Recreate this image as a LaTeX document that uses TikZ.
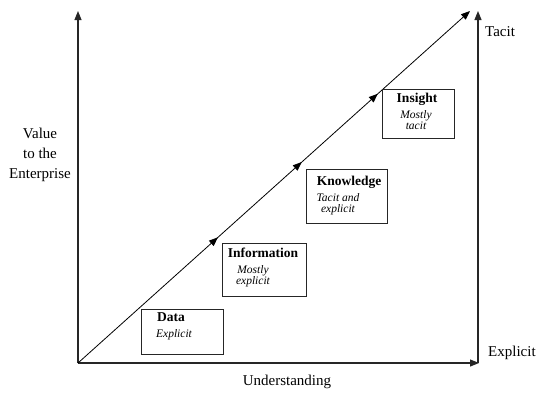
\documentclass[tikz,border=0pt]{standalone}
\usepackage{fontspec}
\setmainfont{Liberation Serif}
\usetikzlibrary{arrows.meta,decorations.markings}
\begin{document}
\begin{tikzpicture}[x=1pt,y=-1pt,
  tip/.style={-{Triangle[length=9pt,width=7pt]}},
  axis/.style={line width=1.1pt,draw=black!85,tip},
  stagebox/.style={draw=black!85,line width=0.9pt,inner sep=0pt,anchor=north west},
  title/.style={font=\fontsize{13.5}{14}\selectfont\bfseries,inner sep=0pt},
  note/.style={font=\fontsize{11.5}{11}\selectfont\itshape,inner sep=0pt,align=center},
  lab/.style={font=\fontsize{15}{20}\selectfont,inner sep=0pt,align=center},
  midarrows/.style={postaction={decorate,decoration={markings,
     mark=at position 0.357 with {\arrow{Triangle[length=9pt,width=7pt]}},
     mark=at position 0.571 with {\arrow{Triangle[length=9pt,width=7pt]}},
     mark=at position 0.765 with {\arrow{Triangle[length=9pt,width=7pt]}}}}}
]
\useasboundingbox (0,0) rectangle (538,394);
\fill[white] (0,0) rectangle (538,394);
% axes
\coordinate (O) at (78,363);
\coordinate (Ytop) at (78,11);
\coordinate (Xend) at (479,363);
\coordinate (Rbot) at (478,363);
\coordinate (Rtop) at (478,11);
\coordinate (Dend) at (470,11);
\draw[axis] (O) -- (Ytop);
\draw[axis] (O) -- (Xend);
\draw[axis] (Rbot) -- (Rtop);
% diagonal
\draw[line width=0.8pt,tip,midarrows] (O) -- (Dend);
% boxes
\node[stagebox,minimum width=82pt,minimum height=45pt] (databox) at (141,309) {};
\node[title] (datat) at (171,317) {Data};
\node[note] (datan) at (174,335) {Explicit};

\node[stagebox,minimum width=84pt,minimum height=53pt] (infobox) at (222,243) {};
\node[title] (infot) at (263,253) {Information};
\node[note] (infon) at (253,276) {Mostly\\explicit};

\node[stagebox,minimum width=81pt,minimum height=54pt] (knowbox) at (306,169) {};
\node[title] (knowt) at (349,182) {Knowledge};
\node[note] (known) at (338,204.5) {Tacit and\\explicit};

\node[stagebox,minimum width=72pt,minimum height=49pt] (insbox) at (382,89) {};
\node[title] (inst) at (417,99) {Insight};
\node[note] (insn) at (416,120) {Mostly\\tacit};
% labels
\node[lab] (val) at (40,155) {Value\\to the\\Enterprise};
\node[lab] (und) at (287,382) {Understanding};
\node[lab,anchor=west] (tac) at (485,32) {Tacit};
\node[lab,anchor=west] (expl) at (488,353) {Explicit};
\end{tikzpicture}
\end{document}
